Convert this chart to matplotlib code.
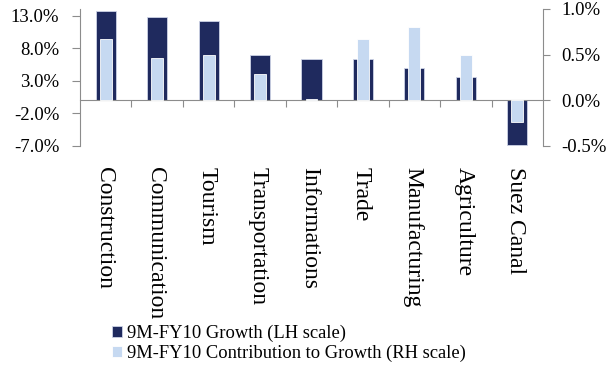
import matplotlib.pyplot as plt
import matplotlib.transforms as mtransforms
import numpy as np

plt.rcParams['font.family'] = ['Liberation Serif', 'DejaVu Serif']

sectors = ["Construction", "Communication", "Tourism", "Transportation",
           "Informations", "Trade", "Manufacturing", "Agriculture", "Suez Canal"]
growth = [13.7, 12.7, 12.1, 6.9, 6.3, 6.3, 4.95, 3.6, -6.85]          # % (LH scale)
contribution = [0.67, 0.46, 0.50, 0.29, 0.02, 0.67, 0.80, 0.50, -0.24]  # % (RH scale)
left_ticks = [-7, -2, 3, 8, 13]
right_ticks = [-0.5, 0.0, 0.5, 1.0]

navy = "#1f2a5e"
light = "#c6d9f1"
grey = "#8c8c8c"

fig = plt.figure(figsize=(6.07, 3.66), dpi=100)
ax = fig.add_axes([80 / 607, 1 - 146 / 366, (543 - 80) / 607, (146 - 9) / 366])
x = np.arange(len(sectors))

b1 = ax.bar(x, growth, width=0.39, color=navy, edgecolor="#cdd3e6", linewidth=0.6,
            label="9M-FY10 Growth (LH scale)")
ax.set_xlim(-0.5, len(sectors) - 0.5)
ax.set_ylim(-7, 14)
ax.set_yticks(left_ticks)
ax.yaxis.set_major_formatter(lambda v, p: f"{v:.1f}%")
ax.tick_params(axis="y", direction="out", length=6, pad=9, color=grey, labelsize=13.5)

# category axis sits on the zero line, ticks between categories
ax.spines["bottom"].set_position(("data", 0))
ax.spines["bottom"].set_color(grey)
ax.spines["left"].set_color(grey)
ax.spines["top"].set_visible(False)
ax.spines["right"].set_visible(False)
ax.set_xticks(np.arange(0.5, len(sectors) - 1, 1))
ax.set_xticklabels([])
ax.tick_params(axis="x", direction="out", length=5, color=grey)

ax2 = ax.twinx()
b2 = ax2.bar(x, contribution, width=0.23, color=light, edgecolor="white", linewidth=0.6,
             label="9M-FY10 Contribution to Growth (RH scale)")
ax2.set_ylim(-0.5, 1.0)
ax2.set_yticks(right_ticks)
ax2.yaxis.set_major_formatter(lambda v, p: f"{v:.1f}%")
ax2.tick_params(axis="y", direction="out", length=5, pad=8, color=grey, labelsize=13.5)
for s in ["top", "bottom", "left"]:
    ax2.spines[s].set_visible(False)
ax2.spines["right"].set_color(grey)

trans = mtransforms.blended_transform_factory(ax.transData, ax.transAxes)
for i, name in enumerate(sectors):
    ax.text(i - 0.03, -0.15, name, transform=trans, rotation=270,
            ha="center", va="top", fontsize=17)

fig.legend(handles=[b1, b2], loc="upper left", bbox_to_anchor=(112 / 607, 1 - 325 / 366),
           frameon=False, fontsize=13.3, borderpad=0, borderaxespad=0,
           handlelength=0.55, handleheight=0.55, handletextpad=0.25, labelspacing=0.15)

fig.savefig("out.png", dpi=100)
